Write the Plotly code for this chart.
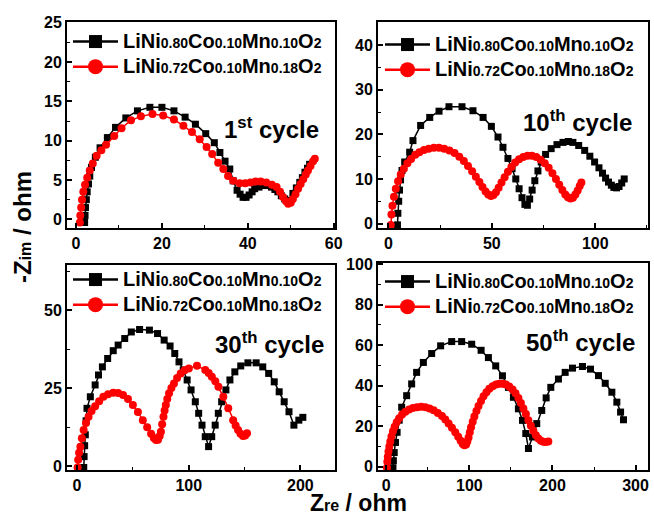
import plotly.graph_objects as go

# ---------------- data ----------------
series_names = ["LiNi0.80Co0.10Mn0.10O2", "LiNi0.72Co0.10Mn0.18O2"]
cycle_labels = ["1<sup>st</sup> cycle", "10<sup>th</sup> cycle", "30<sup>th</sup> cycle", "50<sup>th</sup> cycle"]

# 1st cycle
c1_zre_a = [2.0, 2.1, 2.2, 2.4, 2.6, 2.9, 3.2, 3.6, 4.5, 5.6, 7.3, 9.2, 11.6, 14.3, 17.2, 20.0, 22.8, 25.4, 27.8, 30.2,
            32.2, 33.5, 34.7, 35.8, 36.6, 37.5, 38.2, 38.9, 39.6, 40.3, 41.0, 41.6, 42.6, 43.6, 44.6, 45.5, 46.3, 47.0, 47.8, 48.6,
            49.6, 50.5, 51.3, 52.1, 52.7, 53.3, 53.9, 54.4]
c1_zim_a = [-0.4, 0.5, 1.5, 2.5, 3.5, 4.5, 5.5, 6.6, 7.9, 9.1, 10.4, 11.7, 12.9, 13.8, 14.25, 14.25, 13.8, 13.0, 12.1, 10.9,
            9.75, 8.5, 7.4, 6.4, 4.9, 3.7, 3.2, 2.8, 2.8, 3.1, 3.5, 3.9, 4.1, 4.3, 4.3, 4.1, 3.8, 3.5, 3.0, 2.6,
            2.4, 3.3, 4.0, 4.7, 5.3, 6.0, 6.5, 7.0]
c1_zre_b = [0.9, 1.0, 1.2, 1.4, 1.7, 2.1, 2.6, 3.2, 3.9, 4.8, 5.9, 7.0, 8.9, 10.6, 12.8, 15.1, 17.8, 20.3, 22.8, 25.0,
            27.0, 28.8, 30.4, 31.7, 33.1, 34.3, 35.4, 36.6, 38.1, 39.4, 40.6, 41.8, 43.0, 44.3, 45.6, 46.7, 47.5, 48.2, 48.9, 49.4,
            50.0, 50.5, 51.1, 51.7, 52.3, 52.9, 53.5, 54.0, 54.6, 55.2, 55.6]
c1_zim_b = [-0.4, 0.5, 1.5, 2.5, 3.5, 4.4, 5.3, 6.2, 7.1, 8.1, 8.8, 9.5, 10.6, 11.6, 12.6, 13.1, 13.4, 13.2, 12.7, 11.9,
            11.1, 10.2, 9.2, 8.3, 7.2, 6.4, 5.5, 4.9, 4.6, 4.6, 4.7, 4.8, 4.8, 4.7, 4.4, 4.1, 3.5, 2.85, 2.3, 2.0,
            2.1, 2.6, 3.2, 3.9, 4.5, 5.1, 5.7, 6.2, 6.8, 7.4, 7.7]

# 10th cycle
c10_zre_a = [4.4, 4.6, 5.0, 5.4, 5.9, 6.6, 7.9, 10.3, 11.9, 15.6, 20.0, 24.5, 29.3, 35.6, 40.9, 45.8, 49.8, 53.0, 55.4, 57.8,
             59.8, 61.6, 63.2, 64.6, 66.0, 67.2, 68.3, 69.5, 70.8, 72.3, 73.9, 76.0, 78.7, 81.5, 84.4, 87.0, 89.2, 92.0, 94.9, 97.4,
             99.7, 101.8, 103.5, 105.0, 106.4, 107.8, 109.0, 110.3, 111.5, 112.8, 114.0]
c10_zim_a = [-0.3, 2.3, 5.0, 7.5, 9.8, 11.9, 13.8, 16.0, 18.6, 22.0, 23.8, 25.2, 26.2, 26.2, 25.3, 23.8, 21.8, 19.4, 17.1, 14.6,
             12.3, 10.0, 7.8, 5.8, 4.3, 4.1, 5.5, 7.5, 9.6, 11.8, 13.8, 15.5, 16.8, 17.7, 18.2, 18.4, 18.2, 17.5, 16.4, 15.1,
             13.8, 12.5, 11.3, 10.2, 9.3, 8.6, 8.1, 8.0, 8.3, 9.1, 10.0]
c10_zre_b = [1.2, 1.5, 2.0, 2.7, 3.6, 4.7, 6.0, 7.5, 9.2, 11.0, 13.0, 15.0, 17.2, 19.5, 22.0, 24.5, 27.0, 29.5, 32.0, 34.3,
             36.5, 38.5, 40.5, 42.3, 44.0, 45.5, 47.0, 48.3, 49.6, 50.8, 52.0, 53.3, 54.7, 56.2, 57.8, 59.5, 61.3, 63.2, 65.2, 67.3,
             69.4, 71.5, 73.6, 75.6, 77.5, 79.3, 81.0, 82.6, 84.1, 85.5, 86.8, 88.0, 89.2, 90.4, 91.5, 92.5, 93.3]
c10_zim_b = [-0.3, 2.0, 4.0, 6.0, 7.8, 9.5, 11.0, 12.3, 13.5, 14.5, 15.4, 16.0, 16.5, 16.8, 17.0, 17.0, 16.8, 16.4, 15.8, 15.0,
             14.0, 12.9, 11.7, 10.5, 9.3, 8.2, 7.2, 6.5, 6.2, 6.4, 7.0, 8.0, 9.2, 10.4, 11.6, 12.7, 13.7, 14.4, 14.9, 15.2,
             15.2, 14.9, 14.3, 13.5, 12.5, 11.3, 10.0, 8.7, 7.5, 6.5, 5.9, 5.6, 5.8, 6.5, 7.4, 8.4, 9.2]

# 30th cycle
c30_zre_a = [6.0, 6.3, 6.8, 7.4, 8.1, 8.9, 11.9, 16.2, 19.2, 22.7, 27.4, 32.4, 36.8, 42.7, 48.6, 56.0, 64.8, 72.1, 78.0, 83.3,
             87.5, 91.3, 95.1, 98.6, 102.1, 105.9, 108.9, 111.9, 114.8, 117.8, 120.6, 123.7, 126.5, 129.5, 133.3, 136.9, 141.3, 146.6, 153.0, 160.4,
             166.3, 171.6, 176.6, 181.0, 185.5, 189.8, 194.2, 198.6, 202.2]
c30_zim_a = [-0.5, 3.0, 6.5, 10.0, 14.5, 18.5, 22.2, 26.0, 29.2, 31.8, 34.5, 37.0, 38.8, 40.9, 43.0, 43.8, 43.6, 42.5, 40.4, 38.5,
             36.1, 33.4, 30.8, 27.6, 24.4, 20.6, 16.9, 13.1, 9.4, 6.2, 9.4, 13.1, 16.9, 20.6, 24.4, 27.6, 30.2, 32.1, 33.1, 33.1,
             31.8, 29.7, 27.0, 23.8, 20.6, 17.4, 13.1, 14.7, 15.6]
c30_zre_b = [0.5, 1.0, 1.8, 3.0, 4.3, 5.9, 8.0, 10.3, 13.0, 16.2, 19.8, 23.6, 27.8, 32.4, 36.8, 41.2, 45.6, 50.0, 54.5, 58.9,
             62.8, 66.3, 68.8, 70.7, 72.5, 74.0, 75.1, 76.2, 77.4, 78.4, 79.5, 80.8, 82.4, 84.5, 86.8, 89.6, 92.8, 96.3, 100.1, 107.4,
             114.8, 117.9, 120.7, 123.8, 126.6, 131.0, 135.4, 139.8, 142.0, 144.2, 146.4, 148.6, 150.5, 152.2]
c30_zim_b = [-0.5, 2.0, 4.2, 6.2, 8.9, 11.5, 13.8, 15.8, 17.6, 19.2, 20.8, 22.2, 23.0, 23.5, 23.4, 22.8, 21.5, 19.6, 17.3, 14.7,
             12.4, 10.3, 9.0, 8.3, 8.4, 9.6, 11.0, 13.4, 15.8, 17.8, 19.6, 21.5, 23.3, 25.0, 26.5, 28.2, 29.7, 30.7, 31.3, 32.2,
             30.8, 29.8, 28.6, 27.2, 25.4, 22.2, 18.5, 14.7, 13.0, 11.5, 10.3, 9.6, 9.8, 10.5]

# 50th cycle
c50_zre_a = [8.0, 8.5, 9.5, 11.0, 13.0, 15.5, 18.5, 24.5, 30.5, 36.5, 44.6, 54.6, 65.4, 78.7, 90.7, 102.8, 114.1, 122.9, 131.7, 139.8,
             147.0, 153.0, 159.0, 163.9, 167.9, 171.1, 175.9, 181.1, 187.1, 192.4, 198.0, 207.2, 215.3, 224.1, 236.1, 245.8, 255.4, 263.5, 271.5, 277.5,
             282.0, 285.5]
c50_zim_a = [-0.5, 3.0, 7.0, 12.0, 17.0, 23.0, 29.4, 35.1, 40.9, 46.6, 51.5, 55.9, 59.7, 61.8, 61.8, 60.5, 57.5, 53.9, 49.8, 44.9,
             39.2, 34.3, 28.6, 22.9, 16.4, 9.0, 14.7, 21.3, 27.8, 34.0, 39.2, 43.3, 46.6, 48.7, 49.5, 48.2, 45.0, 41.2, 36.8, 31.9,
             27.0, 23.2]
c50_zre_b = [0.8, 1.2, 1.8, 2.6, 3.6, 4.8, 6.2, 8.0, 10.0, 12.5, 15.5, 19.0, 23.0, 27.5, 32.0, 37.0, 42.0, 47.0, 52.0, 57.0,
             62.0, 67.0, 71.0, 75.0, 79.0, 83.0, 86.5, 89.5, 92.0, 94.0, 96.0, 97.5, 99.0, 100.5, 102.0, 104.0, 106.0, 108.5, 111.0, 114.0,
             117.0, 120.5, 124.0, 128.0, 132.0, 136.0, 140.0, 144.0, 148.0, 152.0, 155.5, 159.0, 162.0, 165.0, 168.0, 171.0, 174.0, 177.0, 180.0, 183.0,
             186.0, 189.0, 192.0, 195.0]
c50_zim_b = [-0.5, 2.5, 5.0, 7.5, 10.0, 12.5, 15.0, 17.5, 19.8, 22.0, 24.0, 25.8, 27.2, 28.3, 29.0, 29.4, 29.6, 29.4, 28.8, 27.9,
             26.6, 25.0, 23.3, 21.4, 19.3, 17.0, 14.8, 12.8, 11.2, 10.6, 11.0, 12.5, 14.5, 17.0, 19.5, 22.2, 24.8, 27.5, 30.0, 32.5,
             34.8, 36.8, 38.5, 39.8, 40.6, 41.0, 41.0, 40.6, 39.6, 38.2, 36.3, 34.0, 31.5, 28.8, 26.0, 23.0, 20.3, 17.8, 15.6, 14.0,
             12.9, 12.3, 12.2, 12.5]

# tick values of each panel
x_ticks = [[0, 20, 40, 60], [0, 50, 100], [0, 100, 200], [0, 100, 200, 300]]
y_ticks = [[0, 5, 10, 15, 20, 25], [0, 10, 20, 30, 40], [0, 25, 50], [0, 20, 40, 60, 80, 100]]

panels = [
    (c1_zre_a, c1_zim_a, c1_zre_b, c1_zim_b),
    (c10_zre_a, c10_zim_a, c10_zre_b, c10_zim_b),
    (c30_zre_a, c30_zim_a, c30_zre_b, c30_zim_b),
    (c50_zre_a, c50_zim_a, c50_zre_b, c50_zim_b),
]
for p in panels:
    assert len(p[0]) == len(p[1]), (len(p[0]), len(p[1]))
    assert len(p[2]) == len(p[3]), (len(p[2]), len(p[3]))

# ---------------- layout geometry ----------------
W, H = 654, 519
FONT = "Arial, Liberation Sans, sans-serif"

def px_x(v):
    return v / W

def px_y(v):
    return 1 - v / H

# frame boxes (left, right, top, bottom) in pixels
boxes = [(67, 335, 22, 228), (378, 648, 22, 228), (67, 335, 265, 470), (378, 648, 263, 470)]
xranges = [[-2.1, 60.3], [-5, 125.5], [-9, 231], [-10, 315]]
yranges = [[-1.1, 25.1], [-1.0, 45.2], [-1.3, 64.5], [-1.6, 100.6]]
xdt = [20, 50, 100, 100]
ydt = [5, 10, 25, 20]
legend_pos = [(68, 24), (380, 27), (68, 262), (380, 264)]
label_pos = [(271, 128), (577, 121), (269, 343), (580, 341)]

colors = ["#000000", "#ff0000"]
symbols = ["square", "circle"]


def legend_text(s):
    # large letters, small digits on the baseline, as in the reference
    out = ""
    buf = ""
    kind = None
    for ch in s + "#":
        k = "d" if (ch.isdigit() or ch == ".") else "l"
        if ch == "#" or (kind is not None and k != kind):
            size = 14 if kind == "d" else 20
            out += "<span style='font-size:%dpx'>%s</span>" % (size, buf)
            buf = ""
        buf += ch
        kind = k
    return out


fig = go.Figure()
layout = dict(
    width=W, height=H, margin=dict(l=0, r=0, t=0, b=0),
    paper_bgcolor="white", plot_bgcolor="white",
    font=dict(family=FONT, color="black", size=16),
    showlegend=True,
)

annotations = []
for i, (xa, ya, xb, yb) in enumerate(panels):
    n = "" if i == 0 else str(i + 1)
    xref = "x" + n
    yref = "y" + n
    lg = "legend" + n
    for k, (xs, ys) in enumerate([(xa, ya), (xb, yb)]):
        fig.add_trace(go.Scatter(
            x=xs, y=ys, mode="lines+markers", xaxis=xref, yaxis=yref,
            line=dict(color=colors[k], width=1.5),
            marker=dict(symbol=symbols[k], size=7 if k == 0 else 8, color=colors[k], line=dict(width=0)),
            showlegend=False, name=series_names[k],
        ))
    for k in range(2):
        fig.add_trace(go.Scatter(
            x=[None], y=[None], mode="lines+markers", xaxis=xref, yaxis=yref,
            line=dict(color=colors[k], width=2.5),
            marker=dict(symbol=symbols[k], size=13 if k == 0 else 15, color=colors[k], line=dict(width=0)),
            name=legend_text(series_names[k]), legend=lg, showlegend=True,
        ))
    l, r, t, b = boxes[i]
    axis_common = dict(
        showline=True, linecolor="black", linewidth=2, mirror=True,
        ticks="inside", ticklen=5, tickwidth=1.5, tickcolor="black",
        showgrid=False, zeroline=False, ticklabeloverflow="allow", automargin=False,
        tickfont=dict(family=FONT, size=16, color="black", weight="bold"),
    )
    layout["xaxis" + n] = dict(
        axis_common, domain=[px_x(l), px_x(r)], range=xranges[i], anchor=yref,
        tickmode="array", tickvals=x_ticks[i], ticktext=[str(v) for v in x_ticks[i]],
        minor=dict(ticks="inside", ticklen=3, tickwidth=1.2, tickcolor="black", dtick=xdt[i] / 2, tick0=0),
    )
    layout["yaxis" + n] = dict(
        axis_common, domain=[px_y(b), px_y(t)], range=yranges[i], anchor=xref,
        tickmode="array", tickvals=y_ticks[i], ticktext=[str(v) for v in y_ticks[i]],
        minor=dict(ticks="inside", ticklen=3, tickwidth=1.2, tickcolor="black", dtick=ydt[i] / 2, tick0=0),
    )
    lx, ly = legend_pos[i]
    layout[lg] = dict(
        x=px_x(lx), y=px_y(ly), xanchor="left", yanchor="top", xref="paper", yref="paper",
        bgcolor="rgba(0,0,0,0)", borderwidth=0, itemwidth=45, tracegroupgap=0,
        font=dict(family=FONT, size=17, color="black", weight="bold"),
    )
    cx, cy = label_pos[i]
    annotations.append(dict(
        text=cycle_labels[i], x=px_x(cx), y=px_y(cy), xref="paper", yref="paper",
        showarrow=False, xanchor="center", yanchor="middle",
        font=dict(family=FONT, size=24, color="black", weight="bold"),
    ))

annotations.append(dict(
    text="-Z<span style='font-size:16px'>im</span> / ohm", x=px_x(22), y=px_y(227), xref="paper", yref="paper",
    showarrow=False, textangle=-90, xanchor="center", yanchor="middle",
    font=dict(family=FONT, size=24, color="black", weight="bold"),
))
annotations.append(dict(
    text="Z<span style='font-size:16px'>re</span> / ohm", x=px_x(358), y=px_y(503), xref="paper", yref="paper",
    showarrow=False, xanchor="center", yanchor="middle",
    font=dict(family=FONT, size=23, color="black", weight="bold"),
))
layout["annotations"] = annotations
fig.update_layout(**layout)
fig.write_html("out.html")
